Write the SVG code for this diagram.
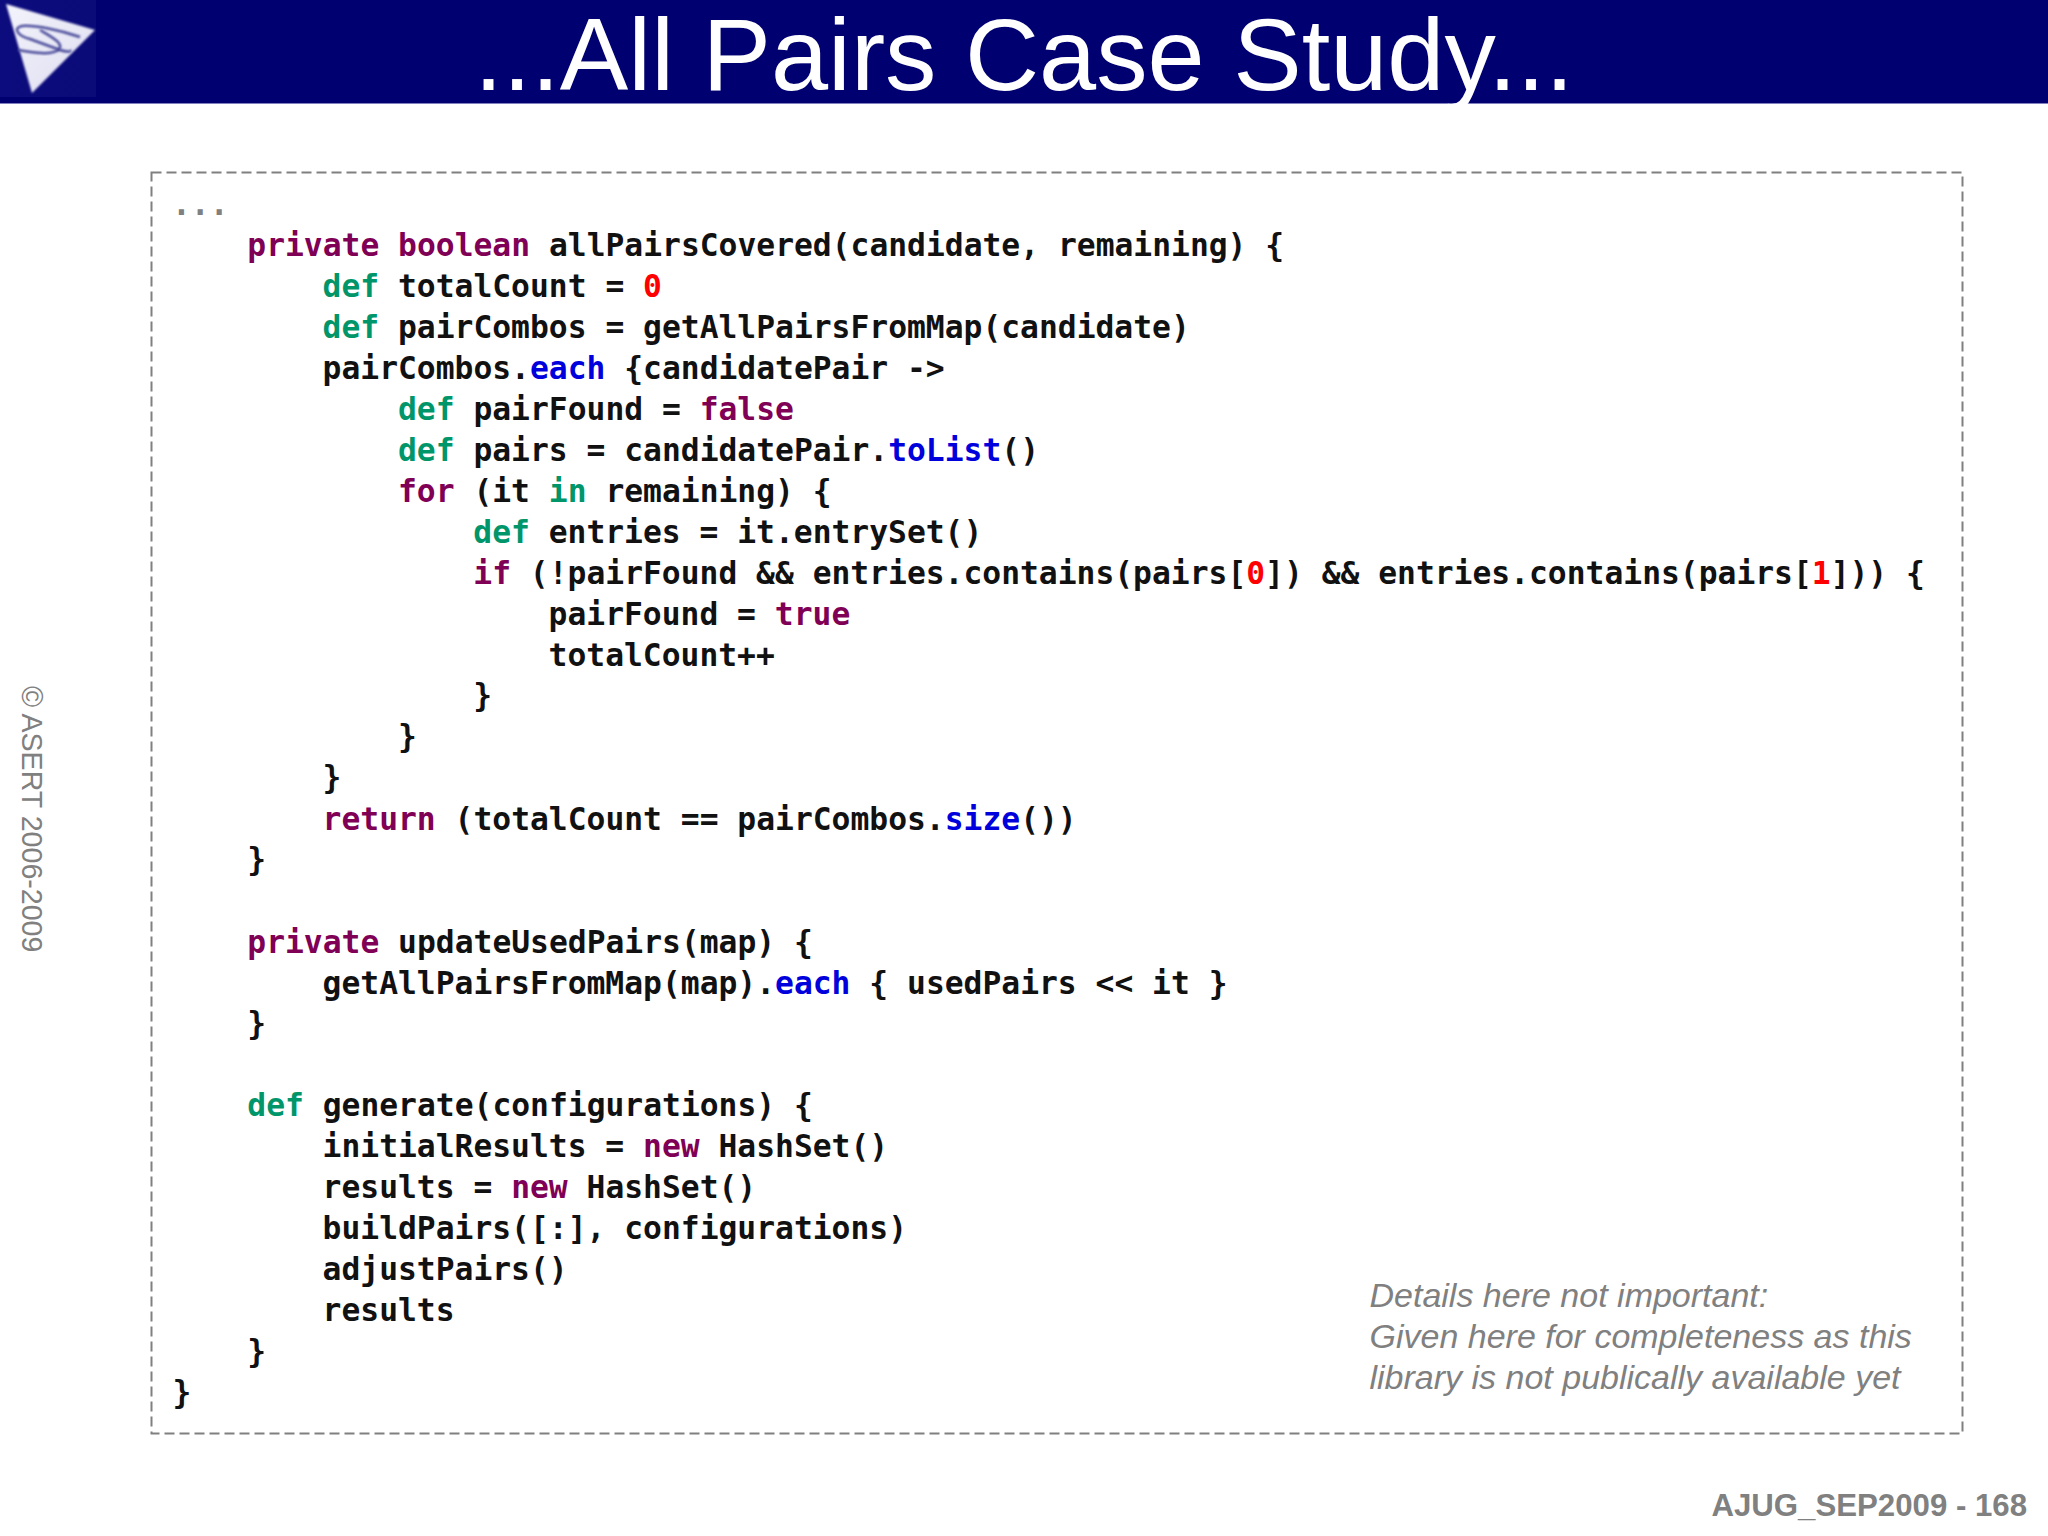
<svg xmlns="http://www.w3.org/2000/svg" width="2048" height="1536" viewBox="0 0 2048 1536">
<style>
.c{font-family:"DejaVu Sans Mono","Liberation Mono",monospace;font-size:31.32px;font-weight:bold;fill:#111;white-space:pre}
.k{fill:#7f0055}.d{fill:#00966a}.n{fill:#ff0000}.m{fill:#0000dc}.g{fill:#808080}
.note{font-family:"Liberation Sans",Arial,sans-serif;font-style:italic;font-size:34px;fill:#808080}
</style>
<defs>
<linearGradient id="lg" x1="0" y1="0" x2="1" y2="0"><stop offset="0" stop-color="#0c0c7e"/><stop offset="1" stop-color="#0a0a78"/></linearGradient>
<linearGradient id="tri" x1="0" y1="0" x2="1" y2="1"><stop offset="0" stop-color="#f4f4fc"/><stop offset="1" stop-color="#dcdcf0"/></linearGradient>
<filter id="b" x="-10%" y="-10%" width="120%" height="120%"><feGaussianBlur stdDeviation="0.8"/></filter>
</defs>
<rect x="0" y="0" width="2048" height="103" fill="#000070"/>
<rect x="0" y="103" width="2048" height="1" fill="#8080c0"/>
<g id="logo">
<rect x="0" y="0" width="96" height="97" fill="url(#lg)"/>
<polygon points="6,4 95,30 32,93" fill="url(#tri)" filter="url(#b)"/>
<path d="M80,37 C60,30 35,25 22,26 C12,28 18,36 30,39 L60,50 C66,52 72,52 70,50" fill="none" stroke="#4a4a9a" stroke-width="2.5" filter="url(#b)"/>
<path d="M18,50 C30,52 50,56 58,50 C66,44 50,36 40,30" fill="none" stroke="#4a4a9a" stroke-width="2.5" filter="url(#b)"/>
</g>
<text id="title" x="1024" y="90" text-anchor="middle" font-family="Liberation Sans,Arial,sans-serif" font-size="102.7" fill="#fff">...All Pairs Case Study...</text>
<rect id="frame" x="151.5" y="172.5" width="1811" height="1261" fill="none" stroke="#808080" stroke-width="2" stroke-dasharray="10 5"/>
<text id="copyright" transform="translate(22,686) rotate(90)" font-family="Liberation Sans,Arial,sans-serif" font-size="28.6" fill="#808080">© ASERT 2006-2009</text>
<g id="code">
<text class="c g" x="172" y="215">...</text>
<text class="c" x="247.3" y="255.7"><tspan class="k">private boolean</tspan> allPairsCovered(candidate, remaining) {</text>
<text class="c" x="322.6" y="296.7"><tspan class="d">def</tspan> totalCount = <tspan class="n">0</tspan></text>
<text class="c" x="322.6" y="337.7"><tspan class="d">def</tspan> pairCombos = getAllPairsFromMap(candidate)</text>
<text class="c" x="322.6" y="378.7">pairCombos.<tspan class="m">each</tspan> {candidatePair -&gt;</text>
<text class="c" x="398" y="419.7"><tspan class="d">def</tspan> pairFound = <tspan class="k">false</tspan></text>
<text class="c" x="398" y="460.7"><tspan class="d">def</tspan> pairs = candidatePair.<tspan class="m">toList</tspan>()</text>
<text class="c" x="398" y="501.7"><tspan class="k">for</tspan> (it <tspan class="d">in</tspan> remaining) {</text>
<text class="c" x="473.3" y="542.7"><tspan class="d">def</tspan> entries = it.entrySet()</text>
<text class="c" x="473.3" y="583.7"><tspan class="k">if</tspan> (!pairFound &amp;&amp; entries.contains(pairs[<tspan class="n">0</tspan>]) &amp;&amp; entries.contains(pairs[<tspan class="n">1</tspan>])) {</text>
<text class="c" x="548.6" y="624.7">pairFound = <tspan class="k">true</tspan></text>
<text class="c" x="548.6" y="665.7">totalCount++</text>
<text class="c" x="473.3" y="706">}</text>
<text class="c" x="398" y="747">}</text>
<text class="c" x="322.6" y="788">}</text>
<text class="c" x="322.6" y="829.7"><tspan class="k">return</tspan> (totalCount == pairCombos.<tspan class="m">size</tspan>())</text>
<text class="c" x="247.3" y="870">}</text>
<text class="c" x="247.3" y="952.7"><tspan class="k">private</tspan> updateUsedPairs(map) {</text>
<text class="c" x="322.6" y="993.7">getAllPairsFromMap(map).<tspan class="m">each</tspan> { usedPairs &lt;&lt; it }</text>
<text class="c" x="247.3" y="1034">}</text>
<text class="c" x="247.3" y="1116.3"><tspan class="d">def</tspan> generate(configurations) {</text>
<text class="c" x="322.6" y="1157.3">initialResults = <tspan class="k">new</tspan> HashSet()</text>
<text class="c" x="322.6" y="1198.3">results = <tspan class="k">new</tspan> HashSet()</text>
<text class="c" x="322.6" y="1239.3">buildPairs([:], configurations)</text>
<text class="c" x="322.6" y="1280.3">adjustPairs()</text>
<text class="c" x="322.6" y="1321.3">results</text>
<text class="c" x="247.3" y="1362">}</text>
<text class="c" x="172.5" y="1403">}</text>
</g>
<g id="note">
<text class="note" x="1369.5" y="1307">Details here not important:</text>
<text class="note" x="1369.5" y="1348">Given here for completeness as this</text>
<text class="note" x="1369.5" y="1389">library is not publically available yet</text>
</g>
<text id="footer" x="2027" y="1516" text-anchor="end" font-family="Liberation Sans,Arial,sans-serif" font-size="31.2" font-weight="bold" fill="#808080">AJUG_SEP2009 - 168</text>
</svg>
